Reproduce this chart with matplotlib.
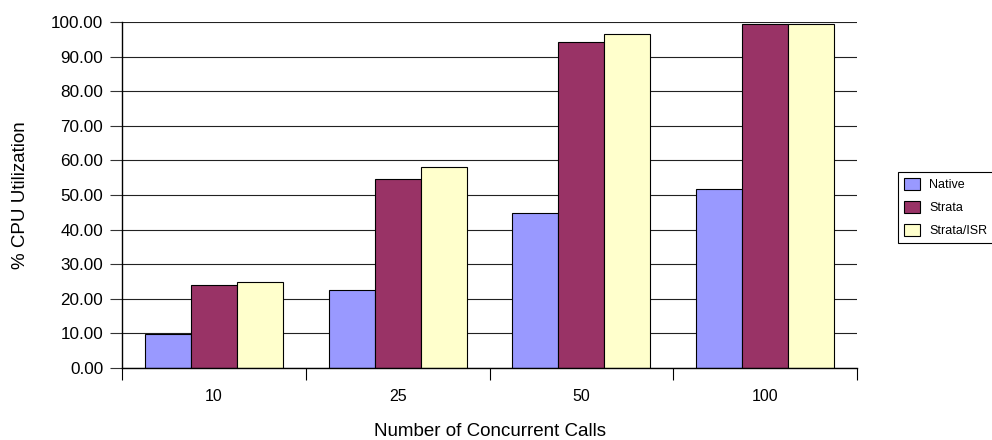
import matplotlib
matplotlib.use("Agg")
import matplotlib.pyplot as plt
from matplotlib.ticker import FixedLocator, FuncFormatter, NullFormatter
import numpy as np

plt.rcParams['font.family'] = ['Liberation Sans', 'DejaVu Sans']

# Concurrent call counts and CPU utilisation (%) per configuration
categories = ["10", "25", "50", "100"]
native = [9.9, 22.4, 44.9, 51.7]
strata = [24.1, 54.5, 94.2, 99.4]
strata_isr = [24.8, 58.1, 96.6, 99.4]
series_names = ["Native", "Strata", "Strata/ISR"]
series_colors = ["#9999FF", "#993366", "#FFFFCC"]
y_ticks = [0, 10, 20, 30, 40, 50, 60, 70, 80, 90, 100]

fig = plt.figure(figsize=(9.92, 4.4), dpi=100)
ax = fig.add_axes([122 / 992, 1 - 368 / 440, (857 - 122) / 992, (368 - 22) / 440])

x = np.arange(len(categories))
width = 0.25
offsets = [-width, 0, width]
for vals, name, col, off in zip([native, strata, strata_isr], series_names,
                                series_colors, offsets):
    ax.bar(x + off, vals, width, color=col, edgecolor="black",
           linewidth=0.8, label=name, zorder=3)

ax.set_xlim(-0.5, len(categories) - 0.5)
ax.set_ylim(0, 100)

# y axis: gridlines and two-decimal labels
ax.yaxis.set_major_locator(FixedLocator(y_ticks))
ax.yaxis.set_major_formatter(FuncFormatter(lambda v, p: f"{v:.2f}"))
ax.grid(axis="y", color="#222222", linewidth=0.8, zorder=0)
ax.tick_params(axis="y", direction="out", length=8.5, width=0.8,
               pad=5, labelsize=12.3, color="#333333")

# x axis: tick marks between groups, labels at group centres
ax.xaxis.set_major_locator(FixedLocator(np.arange(len(categories) + 1) - 0.5))
ax.xaxis.set_major_formatter(NullFormatter())
ax.xaxis.set_minor_locator(FixedLocator(x))
ax.set_xticklabels(categories, minor=True)
ax.tick_params(axis="x", which="major", direction="out", length=8.5,
               width=0.8, color="black")
ax.tick_params(axis="x", which="minor", length=0, pad=15, labelsize=11.5)

for side in ("top", "right"):
    ax.spines[side].set_visible(False)
for side in ("left", "bottom"):
    ax.spines[side].set_color("black")
    ax.spines[side].set_linewidth(1.0)
    ax.spines[side].set_zorder(4)

ax.set_ylabel("% CPU Utilization", fontsize=13.5, labelpad=16)
ax.set_xlabel("Number of Concurrent Calls", fontsize=13.5, labelpad=14)

leg = fig.legend(loc="upper left", bbox_to_anchor=(898 / 992, 1 - 172 / 440),
                 fontsize=9, frameon=True, fancybox=False, framealpha=1,
                 edgecolor="black", borderpad=0.45, labelspacing=0.75,
                 handlelength=1.3, handleheight=1.2, handletextpad=0.75,
                 borderaxespad=0)
leg.get_frame().set_linewidth(0.8)

fig.savefig("out.png", dpi=100)
